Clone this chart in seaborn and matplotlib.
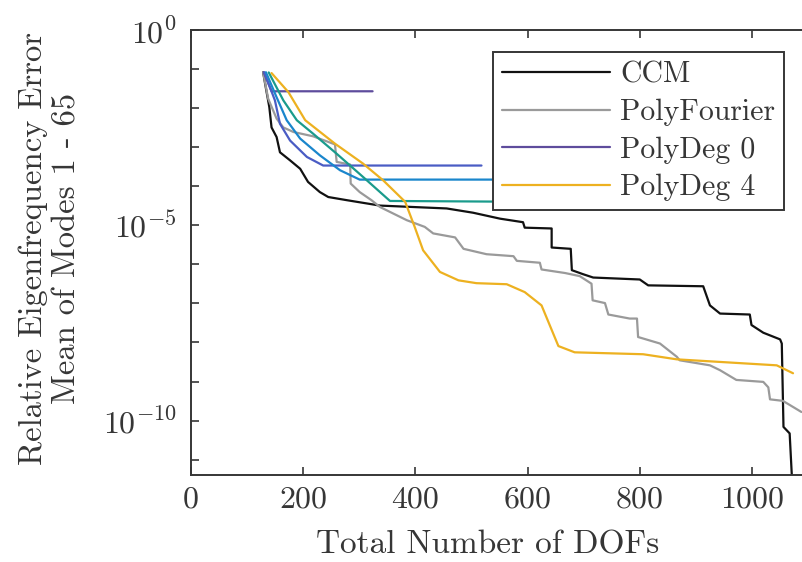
import numpy as np
import pandas as pd
import matplotlib
matplotlib.use("Agg")
import matplotlib.pyplot as plt
import seaborn as sns

# ---- data (DOFs vs. mean relative eigenfrequency error) ----
ccm_x = [129, 134, 140, 144, 153, 159, 177, 195, 209, 230, 245, 278, 337, 456, 503,
         551, 592, 595, 643, 643, 677, 679, 699, 717, 800, 815, 913, 925, 943, 996,
         999, 1020, 1050, 1053, 1056, 1067, 1073]
ccm_y = [8.3e-2, 3.2e-2, 1.07e-2, 3.2e-3, 1.82e-3, 7.4e-4, 4.6e-4, 2.8e-4, 1.29e-4,
         7.1e-5, 5.3e-5, 4.4e-5, 3.2e-5, 2.7e-5, 2.1e-5, 1.48e-5, 1.2e-5, 8.7e-6,
         8.3e-6, 2.7e-6, 2.5e-6, 7.1e-7, 5.6e-7, 4.6e-7, 4.1e-7, 2.9e-7, 2.75e-7,
         8.9e-8, 5.5e-8, 5.2e-8, 2.8e-8, 1.78e-8, 1.2e-8, 9.4e-9, 6.9e-11, 4.7e-11,
         1e-12]

fourier_x = [129, 138, 153, 165, 183, 218, 257, 260, 284, 285, 301, 322, 337, 385,
             417, 432, 471, 486, 527, 575, 581, 622, 625, 667, 693, 714, 716, 738,
             744, 782, 795, 797, 836, 866, 871, 925, 943, 972, 1020, 1029, 1032,
             1055, 1088]
fourier_y = [8.3e-2, 1.74e-2, 5.4e-3, 3.2e-3, 2.45e-3, 1.9e-3, 1.18e-3, 4.2e-4,
             3.6e-4, 1.17e-4, 7.1e-5, 4.4e-5, 2.95e-5, 1.35e-5, 9.1e-6, 6.2e-6,
             4.9e-6, 2.5e-6, 1.82e-6, 1.62e-6, 1.23e-6, 1.1e-6, 7.4e-7, 6.0e-7,
             5.0e-7, 3.2e-7, 1.2e-7, 1.02e-7, 5.2e-8, 4.1e-8, 4.1e-8, 1.38e-8,
             9.4e-9, 4.3e-9, 3.5e-9, 2.6e-9, 1.95e-9, 1.1e-9, 9.8e-10, 7.1e-10,
             3.5e-10, 3.2e-10, 1.66e-10]

deg0_x = [130, 144, 324]
deg0_y = [8.3e-2, 2.7e-2, 2.7e-2]

deg1_x = [131, 150, 159, 177, 207, 236, 518]
deg1_y = [8.3e-2, 1.58e-2, 3.98e-3, 1.48e-3, 5.62e-4, 3.39e-4, 3.39e-4]

deg2_x = [134, 153, 171, 195, 230, 266, 301, 600]
deg2_y = [8.3e-2, 1.9e-2, 4.9e-3, 1.66e-3, 6.2e-4, 2.57e-4, 1.48e-4, 1.48e-4]

deg3_x = [139, 165, 189, 218, 260, 307, 355, 600]
deg3_y = [8.2e-2, 1.58e-2, 4.9e-3, 2.22e-3, 6.8e-4, 1.73e-4, 4.2e-5, 4.0e-5]

deg4_x = [144, 174, 204, 257, 307, 343, 382, 399, 414, 444, 477, 509, 563, 595,
          625, 655, 684, 806, 866, 1044, 1073]
deg4_y = [7.9e-2, 2.57e-2, 4.9e-3, 1.23e-3, 3.8e-4, 1.41e-4, 4.0e-5, 9.1e-6,
          2.29e-6, 6.4e-7, 3.9e-7, 3.3e-7, 3.1e-7, 1.95e-7, 8.9e-8, 8.1e-9,
          5.6e-9, 5.0e-9, 3.7e-9, 2.6e-9, 1.63e-9]

series = [
    ("CCM", ccm_x, ccm_y, "#111111"),
    ("PolyFourier", fourier_x, fourier_y, "#9a9a9a"),
    ("PolyDeg 0", deg0_x, deg0_y, "#5e4c9c"),
    ("PolyDeg 1", deg1_x, deg1_y, "#4a5cc4"),
    ("PolyDeg 2", deg2_x, deg2_y, "#1a86cc"),
    ("PolyDeg 3", deg3_x, deg3_y, "#1a9b8c"),
    ("PolyDeg 4", deg4_x, deg4_y, "#edb120"),
]
leg_names = ["CCM", "PolyFourier", "PolyDeg 0", "PolyDeg 4"]

x_ticks = [0, 200, 400, 600, 800, 1000]
y_exps = list(range(-11, 1))

# ---- style ----
sns.set_theme(style="white")
text_col = "#363636"
plt.rcParams.update({
    "font.family": ["cmr10", "DejaVu Serif"],
    "mathtext.fontset": "cm",
    "axes.unicode_minus": False,
    "axes.formatter.use_mathtext": True,
    "text.color": text_col,
    "axes.labelcolor": text_col,
    "xtick.color": text_col,
    "ytick.color": text_col,
    "axes.edgecolor": text_col,
})

fig = plt.figure(figsize=(8.02, 5.62), dpi=100)
ax = fig.add_axes([0.2378, 0.1543, 0.7622, 0.7923])

handles = {}
for name, xs, ys, col in series:
    df = pd.DataFrame({"dofs": xs, "err": ys})
    sns.lineplot(data=df, x="dofs", y="err", ax=ax, color=col, linewidth=1.6,
                 sort=False, estimator=None, label=name, legend=False)
    handles[name] = ax.lines[-1]

ax.set_yscale("log")
ax.set_xlim(0, 1089)
ax.set_ylim(10 ** -11.4, 1)

ax.set_xticks(x_ticks)
ax.set_xticklabels([str(t) for t in x_ticks])
ax.set_yticks([10.0 ** k for k in y_exps])
ax.set_yticklabels([r"$10^{%d}$" % k if k % 5 == 0 else "" for k in y_exps])
ax.minorticks_off()
ax.tick_params(axis="both", which="major", direction="in", length=6, width=1.2,
               labelsize=23, bottom=True, left=True, top=True, right=False, pad=8)
ax.tick_params(axis="y", pad=10)

ax.spines["right"].set_visible(False)
for s in ["left", "bottom", "top"]:
    ax.spines[s].set_linewidth(1.4)

ax.set_xlabel("Total Number of DOFs", fontsize=24)
ax.xaxis.label.set_va("center")
ax.xaxis.set_label_coords(0.485, -0.157)
ax.set_ylabel("Relative Eigenfrequency Error\nMean of Modes 1 - 65", fontsize=23.5,
              linespacing=1.22)
ax.yaxis.label.set_va("center")
ax.yaxis.set_label_coords(-0.23, 0.51)

leg = ax.legend([handles[n] for n in leg_names], leg_names,
                loc="upper right", bbox_to_anchor=(784 / 802, 1 - 52 / 562),
                bbox_transform=fig.transFigure, fontsize=21.5, frameon=True,
                fancybox=False, framealpha=1, edgecolor=text_col,
                handlelength=3.6, handletextpad=0.35, labelspacing=0.34,
                borderpad=0.3, borderaxespad=0)
leg.get_frame().set_linewidth(1.4)

fig.savefig("out.png", dpi=100)
